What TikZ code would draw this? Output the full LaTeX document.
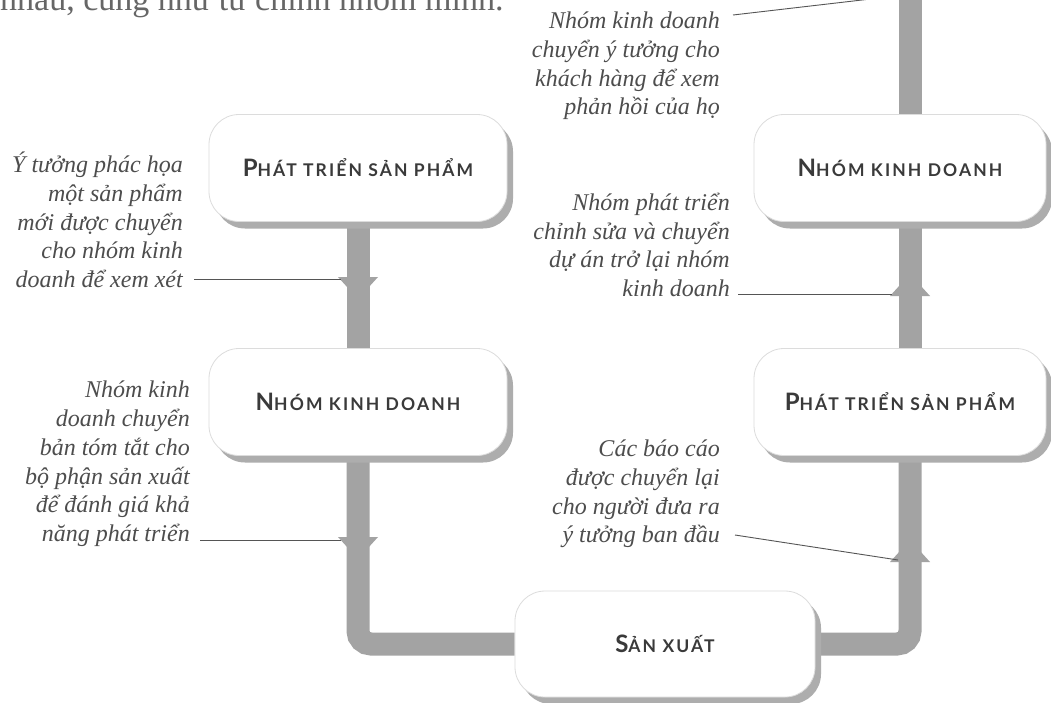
\documentclass[tikz,border=0pt]{standalone}
\usepackage{fontspec}
\setmainfont{Liberation Serif}
\newfontfamily\labfont{Lato}[LetterSpace=12]
\usetikzlibrary{shadows,backgrounds,calc}
\definecolor{barc}{HTML}{A3A3A3}
\definecolor{shadc}{HTML}{ADADAD}
\definecolor{anntext}{HTML}{4D4D4D}
\definecolor{labtext}{HTML}{3A3A3A}
\definecolor{leadc}{HTML}{555555}
\definecolor{edgec}{HTML}{DCDCDC}
\definecolor{toptextc}{HTML}{666666}
\newcommand\boxlab[2]{{\fontsize{24}{24}\selectfont #1}{\fontsize{17.5}{17.5}\selectfont #2}}
\begin{document}
\begin{tikzpicture}[x=1pt,y=-1pt,
  stage/.style={draw=edgec, line width=0.8pt, fill=white, rounded corners=30pt,
    minimum height=107pt, inner sep=0pt, font=\labfont\bfseries, text=labtext,
    drop shadow={shadow xshift=6pt, shadow yshift=-7pt, fill=shadc, opacity=1}},
  note/.style={align=right, anchor=east, inner sep=0pt,
    font=\fontsize{24}{28.8}\selectfont\itshape, text=anntext},
  bar/.style={draw=barc, line width=23pt},
  leader/.style={draw=leadc, line width=0.9pt},
  downhead/.pic={\fill[barc] (-20,0) -- (20,0) -- (0,22) -- cycle;},
  uphead/.pic={\fill[barc] (-20,0) -- (20,0) -- (0,-22) -- cycle;},
]
\useasboundingbox (0,0) rectangle (1051,702);

% top text (cut by the page edge)
\node[anchor=base west, inner sep=0pt, font=\fontsize{34}{34}\selectfont, text=toptextc]
  (toptext) at (0,10) {nhau, cũng như từ chính nhóm mình.};

% stages
\node[stage, minimum width=298pt] (L1) at (358,168) {\boxlab{P}{HÁT TRIỂN SẢN PHẨM}};
\node[stage, minimum width=298pt] (L2) at (358,402) {\boxlab{N}{HÓM KINH DOANH}};
\node[stage, minimum width=292pt] (R1) at (900,168) {\boxlab{N}{HÓM KINH DOANH}};
\node[stage, minimum width=292pt] (R2) at (900,402) {\boxlab{P}{HÁT TRIỂN SẢN PHẨM}};
\node[stage, minimum width=300pt, minimum height=106pt] (SX) at (665,644) {\boxlab{S}{ẢN XUẤT}};

\coordinate (cl) at (358,644);
\coordinate (cr) at (910,644);
\coordinate (topend) at (910,-5);

\begin{scope}[on background layer]
  \fill[white] (0,0) rectangle (1051,702);
  \draw[bar] (L1) -- (L2);
  \draw[bar, rounded corners=13pt] (L2) -- (cl) -- (SX);
  \draw[bar, rounded corners=13pt] (SX) -- (cr) -- (cr |- R2);
  \draw[bar] ([xshift=10pt]R2.center) -- ([xshift=10pt]R1.center);
  \draw[bar] ([xshift=10pt]R1.center) -- (topend);
\end{scope}

% arrow heads on the bars
\coordinate (a1) at (358,277);
\coordinate (a2) at (358,537);
\coordinate (a3) at (910,296);
\coordinate (a4) at (910,562);
\pic at (a1) {downhead};
\pic at (a2) {downhead};
\pic at (a3) {uphead};
\pic at (a4) {uphead};

% notes
\node[note] (n1) at (183,220) {Ý tưởng phác họa\\một sản phẩm\\mới được chuyển\\cho nhóm kinh\\doanh để xem xét};
\node[note] (n2) at (190,464) {Nhóm kinh\\doanh chuyển\\bản tóm tắt cho\\bộ phận sản xuất\\để đánh giá khả\\năng phát triển};
\node[note] (n3) at (730,245) {Nhóm phát triển\\chỉnh sửa và chuyển\\dự án trở lại nhóm\\kinh doanh};
\node[note] (n4) at (720,494) {Các báo cáo\\được chuyển lại\\cho người đưa ra\\ý tưởng ban đầu};
\node[note] (n5) at (720,66) {Nhóm kinh doanh\\chuyển ý tưởng cho\\khách hàng để xem\\phản hồi của họ};

% leaders
\coordinate (l1s) at (194,279); \coordinate (l1e) at (341,279);
\coordinate (l2s) at (200,540); \coordinate (l2e) at (341,540);
\coordinate (l3s) at (738,294); \coordinate (l3e) at (892,294);
\coordinate (l4s) at (735,535); \coordinate (l4e) at (898,560);
\coordinate (l5s) at (733,15);  \coordinate (l5e) at (905,-5);
\draw[leader] (l1s) -- (l1e);
\draw[leader] (l2s) -- (l2e);
\draw[leader] (l3s) -- (l3e);
\draw[leader] (l4s) -- (l4e);
\draw[leader] (l5s) -- (l5e);
\end{tikzpicture}
\end{document}
